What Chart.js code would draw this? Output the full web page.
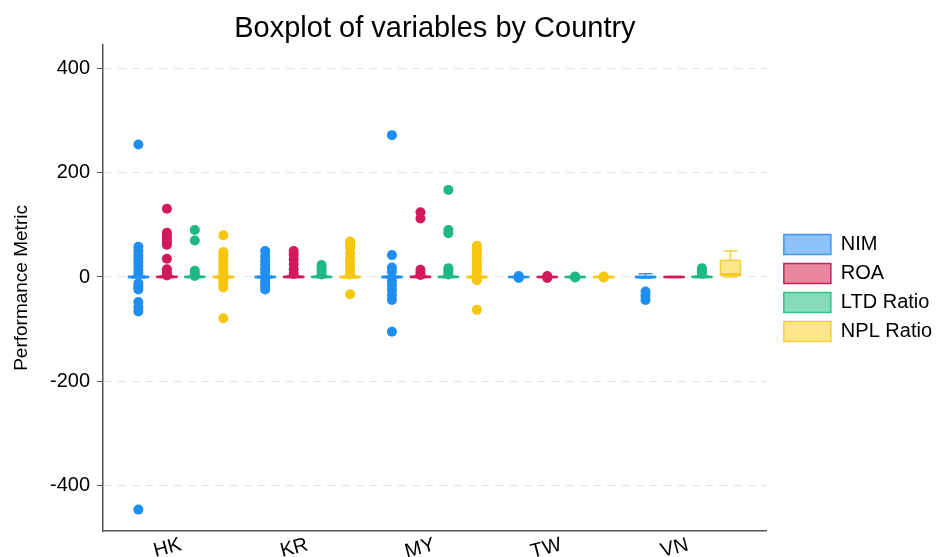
<!DOCTYPE html>
<html>
<head>
<meta charset="utf-8">
<script src="https://cdn.jsdelivr.net/npm/chart.js@4/dist/chart.umd.min.js"></script>
<style>
  html, body { margin: 0; padding: 0; background: #fff; }
  canvas { display: block; }
</style>
</head>
<body>
<canvas id="boxChart" width="937" height="557"></canvas>
<script>
  const countries = ['HK', 'KR', 'MY', 'TW', 'VN'];
  const variables = ['NIM', 'ROA', 'LTD Ratio', 'NPL Ratio'];
  const yTicks = [-400, -200, 0, 200, 400];

  // points per country (HK, KR, MY, TW, VN)
  const nimPoints = [
    [254, 58, 50, 42, 35, 28, 21, 14, 7, -12, -18, -24, -48, -58, -66, -446],
    [50, 40, 31, 23, 15, 8, -6, -12, -18, -24],
    [272, 42, 18, 10, -8, -16, -25, -35, -44, -105],
    [2, 0, -2],
    [-28, -36, -44]
  ];
  const roaPoints = [
    [131, 85, 80, 75, 68, 62, 35, 15, 8, 3],
    [50, 43, 34, 25, 15, 6],
    [124, 112, 14, 8, 4],
    [2, 0, -2],
    []
  ];
  const ltdPoints = [
    [90, 70, 12, 6, 2],
    [23, 17, 11, 5],
    [167, 90, 84, 17, 11, 5],
    [1, 0, -1],
    [17, 11, 6]
  ];
  const nplPoints = [
    [80, 48, 42, 36, 30, 24, 18, 12, 6, -6, -13, -20, -79],
    [68, 62, 56, 45, 35, 28, 20, 12, 5, -33],
    [60, 52, 45, 38, 30, 22, 15, 8, -6, -63],
    [1, 0, -1],
    []
  ];

  // box stats per country: [whisker low, q1, median, q3, whisker high]
  const nimBoxes = [[-2, -1, 0, 1, 2], [-2, -1, 0, 1, 2], [-2, -1, 0, 1, 2], [-1, -0.5, 0, 0.5, 1], [-2, -1, 0, 1, 6]];
  const roaBoxes = [[-1, -0.5, 0, 1, 2], [-1, -0.5, 0, 1, 2], [-1, -0.5, 0, 1, 2], [-1, -0.5, 0, 0.5, 1], [-1, -0.5, 0, 0.5, 1]];
  const ltdBoxes = [[-1, -0.5, 0, 1, 2], [-1, -0.5, 0, 1, 2], [-1, -0.5, 0, 1, 2], [-1, -0.5, 0, 0.5, 1], [-1, -0.5, 0, 1, 2]];
  const nplBoxes = [[-2, -1, 0, 1, 2], [-2, -1, 0, 1, 2], [-2, -1, 0, 1, 2], [-1, -0.5, 0, 0.5, 1], [0, 4, 5, 32, 50]];

  const allPoints = [nimPoints, roaPoints, ltdPoints, nplPoints];
  const allBoxes = [nimBoxes, roaBoxes, ltdBoxes, nplBoxes];

  const colors = ['#1f8ef1', '#d3195d', '#1db883', '#f7c70f'];
  const fills = ['#8fc2f9', '#e8879f', '#86dcba', '#fde68c'];
  const borders = ['#3b96f5', '#cc1f5a', '#2ec48b', '#f5cf35'];
  const offsets = [-0.335, -0.11, 0.11, 0.335];

  const font = "'Liberation Sans', Arial, Helvetica, sans-serif";

  // boxes, whiskers and median lines
  const boxPlugin = {
    id: 'boxes',
    beforeDatasetsDraw(chart) {
      const { ctx, scales: { x, y } } = chart;
      const half = 10, cap = 7;
      ctx.save();
      allBoxes.forEach((boxes, v) => {
        boxes.forEach((s, c) => {
          const [lo, q1, med, q3, hi] = s;
          const cx = x.getPixelForValue(c + offsets[v]);
          const yLo = y.getPixelForValue(lo), yQ1 = y.getPixelForValue(q1);
          const yMed = y.getPixelForValue(med), yQ3 = y.getPixelForValue(q3);
          const yHi = y.getPixelForValue(hi);
          ctx.strokeStyle = borders[v];
          ctx.lineWidth = 1.5;
          ctx.beginPath();
          ctx.moveTo(cx, yQ3); ctx.lineTo(cx, yHi);
          ctx.moveTo(cx - cap, yHi); ctx.lineTo(cx + cap, yHi);
          ctx.moveTo(cx, yQ1); ctx.lineTo(cx, yLo);
          ctx.moveTo(cx - cap, yLo); ctx.lineTo(cx + cap, yLo);
          ctx.stroke();
          ctx.fillStyle = fills[v];
          ctx.fillRect(cx - half, yQ3, half * 2, yQ1 - yQ3);
          ctx.strokeRect(cx - half, yQ3, half * 2, yQ1 - yQ3);
          ctx.strokeStyle = colors[v];
          ctx.lineWidth = 2.5;
          ctx.beginPath();
          ctx.moveTo(cx - half, yMed); ctx.lineTo(cx + half, yMed);
          ctx.stroke();
        });
      });
      ctx.restore();
    }
  };

  // nudge the legend a little right of the plot
  const legendShift = {
    id: 'legendShift',
    afterLayout(chart) {
      chart.legend.left += 8;
      chart.legend.right += 8;
    }
  };

  const datasets = variables.map((name, v) => ({
    label: name,
    data: allPoints[v].flatMap((pts, c) => pts.map(val => ({ x: c + offsets[v], y: val }))),
    backgroundColor: colors[v],
    borderWidth: 0,
    pointRadius: 5,
    pointHoverRadius: 5,
    showLine: false
  }));

  new Chart(document.getElementById('boxChart'), {
    type: 'scatter',
    data: { datasets },
    plugins: [boxPlugin, legendShift],
    options: {
      responsive: false,
      animation: false,
      events: [],
      layout: { padding: { left: 0, right: 3, top: 0, bottom: 0 } },
      plugins: {
        tooltip: { enabled: false },
        title: {
          display: true,
          text: 'Boxplot of variables by Country',
          fullSize: false,
          color: '#000',
          font: { family: font, size: 29, weight: 'normal', lineHeight: 1.1 },
          padding: { top: 13, bottom: 0 }
        },
        legend: {
          position: 'right',
          fullSize: false,
          labels: {
            color: '#000',
            font: { family: font, size: 20 },
            boxWidth: 47,
            boxHeight: 20,
            padding: 9,
            generateLabels: () => variables.map((name, i) => ({
              text: name,
              fillStyle: fills[i],
              strokeStyle: borders[i],
              lineWidth: 1.5,
              hidden: false,
              datasetIndex: i
            }))
          }
        }
      },
      scales: {
        x: {
          type: 'linear',
          min: -0.614,
          max: 4.622,
          afterBuildTicks: s => { s.ticks = countries.map((c, i) => ({ value: i })); },
          afterFit: s => { s.height = 26; },
          grid: { display: false, drawTicks: false },
          border: { display: true, color: '#555', width: 1.5 },
          ticks: {
            callback: v => countries[v],
            color: '#000',
            font: { family: font, size: 20 },
            minRotation: 15,
            maxRotation: 15,
            padding: 2
          }
        },
        y: {
          min: -487,
          max: 445,
          afterBuildTicks: s => { s.ticks = yTicks.map(v => ({ value: v })); },
          afterFit: s => { s.width = 103; },
          grid: { color: '#e2e2e2', lineWidth: 1, tickColor: '#555', tickLength: 6 },
          border: { display: true, color: '#555', width: 1.5, dash: [8, 6] },
          title: {
            display: true,
            text: 'Performance Metric',
            color: '#000',
            font: { family: font, size: 19 },
            padding: { top: 10, bottom: 4 }
          },
          ticks: {
            color: '#000',
            font: { family: font, size: 20 },
            padding: 7
          }
        }
      }
    }
  });
</script>
</body>
</html>
